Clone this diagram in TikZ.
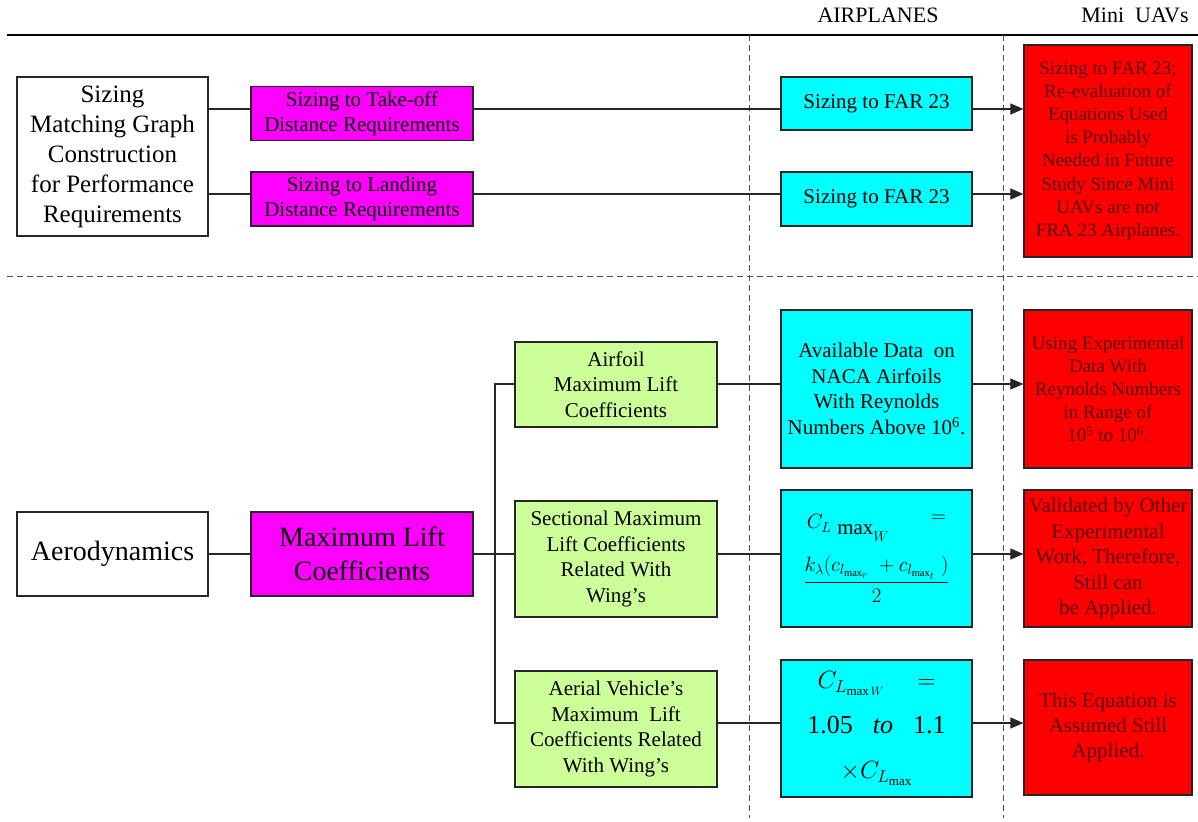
\documentclass[tikz,border=0pt]{standalone}
\usepackage{amsmath}
\usepackage{fontspec}
\setmainfont{Liberation Serif}
\usetikzlibrary{arrows.meta}

\definecolor{roseVif}{RGB}{255,0,255}
\definecolor{cyanVif}{RGB}{0,255,255}
\definecolor{vertClair}{RGB}{204,255,153}
\definecolor{rougeVif}{RGB}{255,0,0}
\definecolor{rougeTexte}{RGB}{95,0,0}

\begin{document}
\begin{tikzpicture}[x=1pt,y=-1pt,
  boite/.style={draw=black!85, line width=1.2pt, inner sep=0pt, align=center},
  boiteBlanche/.style={boite, fill=white},
  boiteRose/.style={boite, fill=roseVif},
  boiteCyan/.style={boite, fill=cyanVif},
  boiteVerte/.style={boite, fill=vertClair},
  boiteRouge/.style={boite, fill=rougeVif, text=rougeTexte},
  lien/.style={line width=1.1pt, draw=black!85},
  fleche/.style={lien, -{Triangle[length=13pt,width=11pt]}},
  tirets/.style={line width=1pt, draw=black!70, dash pattern=on 6pt off 4pt},
  taille/.style 2 args={font=\fontsize{#1}{#2}\selectfont}]

\useasboundingbox (0,0) rectangle (1198,821);

% Séparateurs
\draw[line width=1.1pt] (7,35) -- (1198,35);
\draw[tirets] (7,276) -- (1198,276);
\draw[tirets] (749,35) -- (749,818);
\draw[tirets] (1003,35) -- (1003,818);

% En-têtes des colonnes
\node[taille={22}{26}] (avions) at (878,15) {AIRPLANES};
\node[taille={22}{26}] (drones) at (1135,15) {Mini~~UAVs};

% Bloc performances
\node[boiteBlanche, minimum width=191, minimum height=159, taille={25}{30}] (sizing) at (112.5,156.5)
  {Sizing\\Matching Graph\\Construction\\for Performance\\Requirements};
\node[boiteRose, minimum width=222, minimum height=54, taille={21}{25}] (decollage) at (362,113.5)
  {Sizing to Take-off\\Distance Requirements};
\node[boiteRose, minimum width=222, minimum height=54, taille={21}{25}] (atterrissage) at (362,199)
  {Sizing to Landing\\Distance Requirements};
\node[boiteCyan, minimum width=191, minimum height=53, taille={21}{25}] (far1) at (876.5,103.5)
  {Sizing to FAR 23};
\node[boiteCyan, minimum width=191, minimum height=54, taille={21}{25}] (far2) at (876.5,199)
  {Sizing to FAR 23};
\node[boiteRouge, minimum width=168, minimum height=212, taille={19}{23.2}] (rouge1) at (1108,151)
  {Sizing to FAR 23;\\Re-evaluation of\\Equations Used\\is Probably\\Needed in Future\\Study Since Mini\\UAVs are not\\FRA 23 Airplanes.};

% Bloc aérodynamique
\node[boiteBlanche, minimum width=191, minimum height=84, taille={28}{34}] (aero) at (112.5,554)
  {Aerodynamics};
\node[boiteRose, minimum width=222, minimum height=84, taille={28}{34}] (portance) at (362,554)
  {Maximum Lift\\Coefficients};
\node[boiteVerte, minimum width=202, minimum height=85, taille={21}{25.5}] (profil) at (616,384.5)
  {Airfoil\\Maximum Lift\\Coefficients};
\node[boiteVerte, minimum width=202, minimum height=116, taille={21}{25.5}] (section) at (616,559)
  {Sectional Maximum\\Lift Coefficients\\Related With\\Wing’s};
\node[boiteVerte, minimum width=202, minimum height=116, taille={21}{25.5}] (vehicule) at (616,729)
  {Aerial Vehicle’s\\Maximum~~Lift\\Coefficients Related\\With Wing’s};
\node[boiteCyan, minimum width=191, minimum height=158, taille={21}{25.7}] (donnees) at (876.5,389)
  {Available Data~~on\\NACA Airfoils\\With Reynolds\\Numbers Above 10\textsuperscript{6}.};
\node[boiteCyan, minimum width=191, minimum height=137, taille={21}{25}] (formule1) at (876.5,558.5)
  {$C_{L}\;\raisebox{-6pt}{$\mathrm{max}$}\raisebox{-9pt}{$_{W}$}\qquad\raisebox{6pt}{$=$}$\\[14pt]
   $\dfrac{k_{\lambda}(c_{l_{\max_r}}\;+c_{l_{\max_t}}\;)}{2}$};
\node[boiteCyan, minimum width=191, minimum height=137, taille={26}{45}] (formule2) at (876.5,728.5)
  {$C_{L_{\max W}}\quad=$\\1.05\hspace{20pt}\textit{to}\hspace{20pt}1.1\\$\times C_{L_{\max}}$};
\node[boiteRouge, minimum width=168, minimum height=158, taille={19}{23}] (rouge2) at (1108,389)
  {Using Experimental\\Data With\\Reynolds Numbers\\in Range of\\10\textsuperscript{5} to 10\textsuperscript{6}.};
\node[boiteRouge, minimum width=168, minimum height=137, taille={21}{25.5}] (rouge3) at (1108,558.5)
  {Validated by Other\\Experimental\\Work, Therefore,\\Still can\\be Applied.};
\node[boiteRouge, minimum width=168, minimum height=135, taille={21}{25}] (rouge4) at (1108,727.5)
  {This Equation is\\Assumed Still\\Applied.};

% Niveaux des liaisons
\coordinate (h1) at (0,109);
\coordinate (h2) at (0,194);
\coordinate (b1) at (495,384);
\coordinate (b2) at (495,554);
\coordinate (b3) at (495,723);

% Liaisons du haut
\draw[lien] (sizing.east |- h1) -- (decollage.west |- h1);
\draw[lien] (decollage.east |- h1) -- (far1.west |- h1);
\draw[fleche] (far1.east |- h1) -- (rouge1.west |- h1);
\draw[lien] (sizing.east |- h2) -- (atterrissage.west |- h2);
\draw[lien] (atterrissage.east |- h2) -- (far2.west |- h2);
\draw[fleche] (far2.east |- h2) -- (rouge1.west |- h2);

% Liaisons du bas
\draw[lien] (aero.east) -- (portance.west);
\draw[lien] (portance.east) -- (section.west |- b2);
\draw[lien] (profil.west |- b1) -- (b1) -- (b3) -- (vehicule.west |- b3);
\draw[lien] (profil.east |- b1) -- (donnees.west |- b1);
\draw[lien] (section.east |- b2) -- (formule1.west |- b2);
\draw[lien] (vehicule.east |- b3) -- (formule2.west |- b3);
\draw[fleche] (donnees.east |- b1) -- (rouge2.west |- b1);
\draw[fleche] (formule1.east |- b2) -- (rouge3.west |- b2);
\draw[fleche] (formule2.east |- b3) -- (rouge4.west |- b3);

\end{tikzpicture}
\end{document}
